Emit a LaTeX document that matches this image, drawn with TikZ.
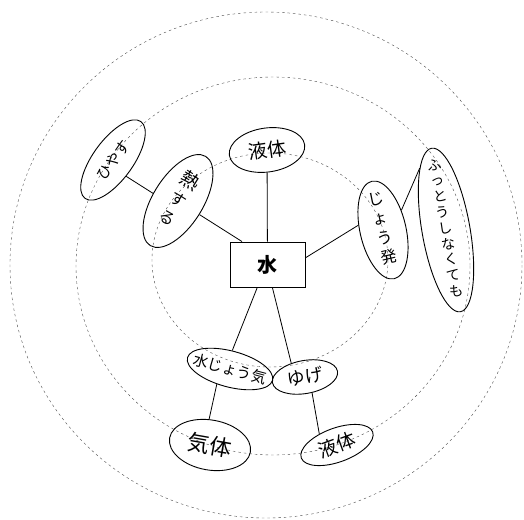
\documentclass[tikz,border=0pt]{standalone}
\usepackage{fontspec}
\newfontfamily\cjk{Noto Sans CJK JP}
\usetikzlibrary{shapes.geometric}
\newcommand\hz[1]{\smash{\makebox[0pt]{\raisebox{-0.38em}{#1}}}}
\newcommand\vz[1]{\smash{\makebox[0pt]{\raisebox{-0.25em}{\begin{tabular}{@{}c@{}}#1\end{tabular}}}}}
\tikzset{
  ring/.style={draw=black!70, line width=0.4pt, dash pattern=on 2.5pt off 3pt},
  blob/.style={draw, ellipse, line width=0.9pt, inner sep=0pt},
  conn/.style={line width=0.8pt},
  fs/.style={font={\cjk\fontsize{#1}{#1}\selectfont}},
  vfs/.style 2 args={font={\cjk\fontsize{#1}{#2}\selectfont}}
}
\begin{document}
\begin{tikzpicture}[x=1pt,y=-1pt]
\useasboundingbox (0,0) rectangle (524,519);
% dashed rings
\draw[ring] (266,265) ellipse [x radius=256, y radius=253];
\draw[ring] (273,266) ellipse [x radius=197, y radius=189];
\draw[ring] (270,260) ellipse [x radius=118, y radius=107];
% centre box
\node[draw, line width=0.9pt, minimum width=75pt, minimum height=45pt, inner sep=0pt,
      font={\cjk\bfseries\fontsize{20}{20}\selectfont}] (mizu) at (267.5,264.5) {水};
% nodes
\node[blob, minimum width=76pt, minimum height=44pt, rotate=8, fs=19] (ekitaiA) at (267,150) {\hz{液体}};
\node[blob, minimum width=50pt, minimum height=105pt, rotate=-32, vfs={16}{21}] (netsu) at (178,201) {\vz{{\fontsize{19}{19}\selectfont 熱}\\す\\る}};
\node[blob, minimum width=95pt, minimum height=40pt, rotate=54, fs=15] (hiyasu) at (113,160) {\hz{ひやす}};
\node[blob, minimum width=46pt, minimum height=100pt, rotate=13, vfs={16}{20}] (johatsu) at (383,230) {\vz{じ\\ょ\\う\\発}};
\node[blob, minimum width=48pt, minimum height=166pt, rotate=10, vfs={14}{16}] (futtou) at (446,230) {\vz{ふ\\っ\\と\\う\\し\\な\\く\\て\\も}};
\node[blob, minimum width=88pt, minimum height=36pt, rotate=-15, fs=15] (jouki) at (230,369) {\hz{水じょう気}};
\node[blob, minimum width=66pt, minimum height=33pt, rotate=10, fs=18] (yuge) at (305,377) {\hz{ゆげ}};
\node[blob, minimum width=82pt, minimum height=50pt, rotate=-10, fs=22] (kitai) at (210,445) {\hz{気体}};
\node[blob, minimum width=76pt, minimum height=34pt, rotate=20, fs=19] (ekitaiB) at (337,445) {\hz{液体}};
% connectors
\draw[conn] (mizu) -- (ekitaiA);
\draw[conn] (mizu.138) -- (netsu);
\draw[conn] (netsu.195) -- (hiyasu.255);
\draw[conn] (mizu.10) -- (johatsu.156);
\draw[conn] (johatsu.34) -- (futtou.103);
\draw[conn] (mizu.246) -- (jouki.98);
\draw[conn] (mizu.282) -- (yuge.125);
\draw[conn] (jouki.244) -- (kitai.102);
\draw[conn] (yuge.284) -- (ekitaiB.128);
\end{tikzpicture}
\end{document}
